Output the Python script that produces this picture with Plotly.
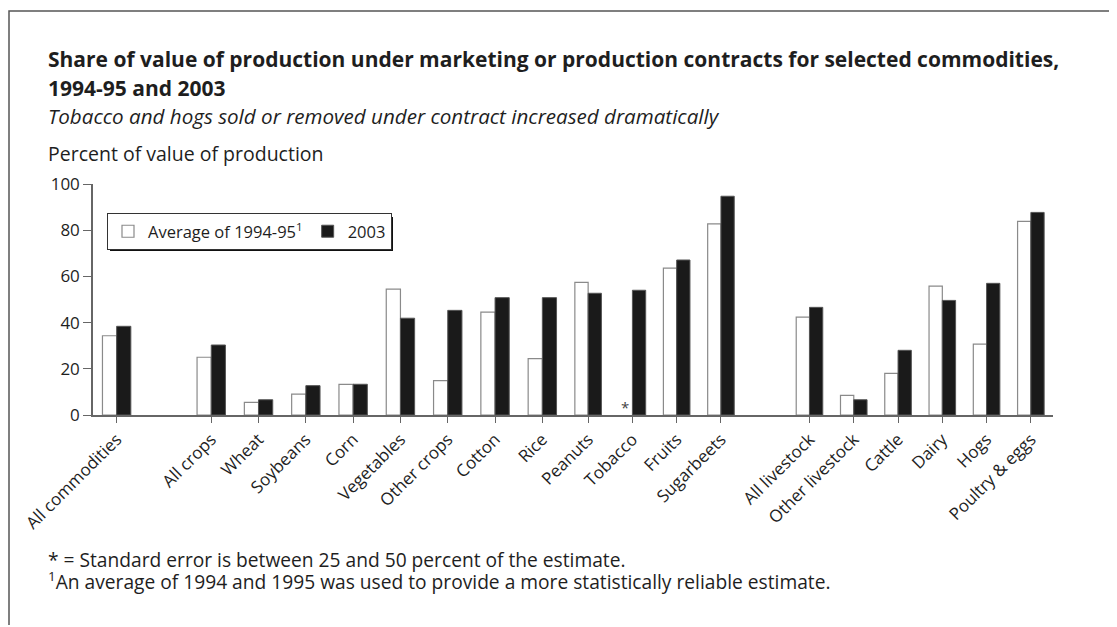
import plotly.graph_objects as go

# ---------------- data ----------------
categories = ["All commodities", " ", "All crops", "Wheat", "Soybeans", "Corn",
              "Vegetables", "Other crops", "Cotton", "Rice", "Peanuts", "Tobacco",
              "Fruits", "Sugarbeets", "  ", "All livestock", "Other livestock",
              "Cattle", "Dairy", "Hogs", "Poultry & eggs"]
avg_1994_95 = [34.3, None, 25.0, 5.5, 9.0, 13.3, 54.5, 14.9, 44.5, 24.4, 57.4, None,
               63.6, 82.7, None, 42.4, 8.5, 18.0, 55.8, 30.7, 83.8]
val_2003 = [38.4, None, 30.3, 6.6, 12.7, 13.3, 41.9, 45.3, 50.8, 50.8, 52.7, 54.0,
            67.1, 94.7, None, 46.6, 6.6, 28.0, 49.6, 57.0, 87.7]
y_ticks = [0, 20, 40, 60, 80, 100]
flagged = ["Tobacco"]   # standard error 25-50 percent
series_names = ["Average of 1994-95<sup>1</sup>", "2003"]

title_l1 = "Share of value of production under marketing or production contracts for selected commodities,"
title_l2 = "1994-95 and 2003"
subtitle = "Tobacco and hogs sold or removed under contract increased dramatically"
y_label = "Percent of value of production"
notes = ["* = Standard error is between 25 and 50 percent of the estimate.",
         "<sup>1</sup>An average of 1994 and 1995 was used to provide a more statistically reliable estimate."]

# the original artwork uses a slightly wider category spacing for the first
# block (up to Rice) than for the rest; two x axes reproduce that
SPLIT = categories.index("Rice") + 1

# ---------------- layout geometry (reference-pixel coordinates) ----------------
OFF = 8                      # page body margin
FIG_W, FIG_H = 1107, 617
L, R, T, B = 93, 1053, 184, 415
XSPLIT = 566
W, H = R - L, B - T
FONT = "'Open Sans', Lato, sans-serif"
INK = "#1e1e1e"


def px(x):
    return (x - L) / W


def py(y):
    return (B - y) / H


cat_l, cat_r = categories[:SPLIT], categories[SPLIT:]
styles = [dict(color="white", line=dict(color="#8a8a8a", width=1.2)),
          dict(color="#1a1a1a", line=dict(color="#555555", width=1))]
values = [avg_1994_95, val_2003]

fig = go.Figure()
for i, (name, vals, st) in enumerate(zip(series_names, values, styles)):
    fig.add_bar(name=name, x=cat_l, y=vals[:SPLIT], marker=st, xaxis="x", yaxis="y",
                legendgroup=str(i), showlegend=True)
for i, (name, vals, st) in enumerate(zip(series_names, values, styles)):
    fig.add_bar(name=name, x=cat_r, y=vals[SPLIT:], marker=st, xaxis="x2", yaxis="y",
                legendgroup=str(i), showlegend=False)

annotations = [
    dict(text="<b>%s</b>" % title_l1, x=px(46), y=py(59), font=dict(size=21)),
    dict(text="<b>%s</b>" % title_l2, x=px(46), y=py(88), font=dict(size=21)),
    dict(text="<i>%s</i>" % subtitle, x=px(46), y=py(116), font=dict(size=20.6)),
    dict(text=y_label, x=px(46), y=py(153), font=dict(size=19.5)),
    dict(text=notes[0], x=px(46), y=py(559), font=dict(size=19.2)),
    dict(text=notes[1], x=px(46), y=py(581), font=dict(size=19.2)),
]
for a in annotations:
    a.update(xref="paper", yref="paper", xanchor="left", yanchor="middle",
             showarrow=False)
    a["font"].update(family=FONT, color=INK)

for c in flagged:
    xr = "x" if c in cat_l else "x2"
    annotations.append(dict(text="*", x=c, y=0, xref=xr, yref="y", xshift=-7,
                            yshift=-4, yanchor="bottom", showarrow=False,
                            font=dict(family=FONT, size=15, color="#444")))

shapes = [
    # outer frame (top and left edges visible)
    dict(type="rect", xref="paper", yref="paper", x0=px(9), x1=px(1160),
         y0=py(680), y1=py(11), line=dict(color="#555", width=1.5), layer="below"),
    # legend shadow
    dict(type="rect", xref="paper", yref="paper", x0=px(110), x1=px(393),
         y0=py(251), y1=py(217), fillcolor="#111", line=dict(width=0), layer="above"),
]

axis_common = dict(type="category", tickmode="array",
                   ticks="outside", ticklen=6, tickcolor="#666", tickwidth=1.2,
                   showline=True, linecolor="#666", linewidth=1.5,
                   tickangle=-45, tickfont=dict(family=FONT, size=17, color=INK),
                   showgrid=False, zeroline=False, fixedrange=True, anchor="y")

fig.update_layout(
    width=FIG_W, height=FIG_H, autosize=False,
    margin=dict(l=L - OFF, r=FIG_W - (R - OFF), t=T - OFF, b=FIG_H - (B - OFF)),
    paper_bgcolor="white", plot_bgcolor="white",
    font=dict(family=FONT, color=INK),
    barmode="group", bargap=0.4, bargroupgap=0,
    showlegend=True,
    legend=dict(orientation="h", x=px(107), y=py(213), xanchor="left", yanchor="top",
                bgcolor="white", bordercolor="#333", borderwidth=1,
                font=dict(family=FONT, size=16.5, color=INK),
                itemclick=False, traceorder="normal"),
    annotations=annotations,
    shapes=shapes,
    xaxis=dict(axis_common, domain=[0, px(XSPLIT)], categoryorder="array",
               categoryarray=cat_l, tickvals=[c for c in cat_l if c.strip()],
               range=[-0.5, len(cat_l) - 0.5]),
    xaxis2=dict(axis_common, domain=[px(XSPLIT), 1], categoryorder="array",
                categoryarray=cat_r, tickvals=[c for c in cat_r if c.strip()],
                range=[-0.5, len(cat_r) - 0.5]),
    yaxis=dict(range=[0, 100], tickmode="array", tickvals=y_ticks,
               ticks="outside", ticklen=8, tickcolor="#666", tickwidth=1.2,
               showline=True, linecolor="#666", linewidth=1.5,
               tickfont=dict(family=FONT, size=17, color=INK),
               showgrid=False, zeroline=False, fixedrange=True),
)

fig.write_html("out.html")
